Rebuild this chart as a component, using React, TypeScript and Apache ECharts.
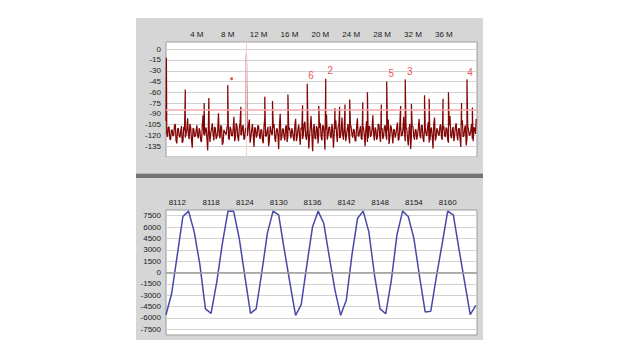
import React, { useEffect, useRef } from "react";
import * as echarts from "echarts";

// ---------- Spectrum (top panel) ----------
const NOISE_STEP_M = 0.2;
// noise floor samples (dBFS) on the even grid 0, 0.2, 0.4 ... MHz
const noiseFloorA: number[] = [
  -100, -122, -108, -126, -112, -119, -104, -131, -110, -123, -107, -128, -113, -118, -96, -125, -109, -137, -111, -121,
  -106, -124, -114, -129, -92, -120, -109, -141, -112, -117, -103, -127, -110, -122, -89, -124, -108, -130, -115, -119,
  -105, -126, -111, -121, -94, -123, -107, -128, -102, -119, -106, -124, -109, -117, -98, -122, -104, -136, -110, -120,
  -107, -125, -112, -131, -95, -121, -108, -126, -113, -118, -104, -129, -110, -139, -90, -123, -111, -127, -106, -120,
  -109, -124, -114, -128, -97, -122, -105, -133, -111, -119, -101, -126, -108, -121, -93, -142, -104, -125, -110, -118,
  -103, -127, -107, -140, -91, -120, -108, -124, -112, -117, -99, -129, -106, -122, -95, -126, -110, -119, -104, -131,
  -109, -123, -113, -128, -96, -121, -107, -126, -111, -135, -100, -124, -108, -119, -92, -127, -112, -122, -105, -129,
  -110, -121, -106, -126, -98, -123, -109, -131, -113, -118, -102, -125, -107, -120, -94, -128, -111, -134, -104, -122,
  -108, -126, -112, -119, -97, -124, -106, -129, -110, -121, -101, -127, -109, -138, -95, -123, -113, -120, -105, -126,
  -107, -122, -111, -130, -93, -124, -108, -120, -103, -127, -110, -136, -99, -121, -106, -125, -112, -119, -104, -128,
  -110, -97,
];
// noise floor samples on the odd grid 0.1, 0.3, 0.5 ... MHz
const noiseFloorB: number[] = [
  -118, -109, -125, -113, -121, -106, -127, -111, -120, -115, -130, -108, -123, -112, -119, -104, -126, -110, -122, -114,
  -121, -110, -127, -107, -119, -113, -124, -105, -129, -111, -118, -108, -125, -114, -120, -106, -133, -112, -117, -109,
  -124, -108, -120, -112, -128, -103, -122, -110, -119, -107, -126, -111, -121, -105, -130, -113, -118, -109, -123, -106,
  -120, -112, -126, -108, -121, -114, -135, -107, -119, -110, -124, -113, -118, -106, -127, -111, -122, -108, -129, -112,
  -117, -110, -123, -106, -128, -112, -120, -109, -125, -104, -121, -113, -138, -108, -119, -111, -124, -107, -131, -110,
  -122, -106, -119, -112, -126, -109, -121, -104, -137, -111, -118, -108, -124, -113, -120, -107, -128, -110, -123, -105,
  -119, -111, -127, -108, -121, -113, -124, -106, -120, -110, -129, -107, -122, -112, -118, -109, -126, -104, -121, -111,
  -125, -108, -120, -113, -132, -106, -119, -111, -123, -109, -127, -105, -121, -112, -118, -108, -124, -110, -139, -107,
  -121, -112, -126, -109, -120, -106, -124, -111, -118, -108, -130, -113, -122, -105, -127, -110, -119, -107, -123, -112,
  -120, -109, -126, -106, -121, -112, -128, -108, -119, -111, -124, -105, -122, -110, -134, -107, -120, -113, -125, -109,
  -118,
];
// spurs / tones: [frequency in MHz, level in dBFS]
const spurs: [number, number][] = [
  [0.05, -12], [2.5, -56], [4.95, -75], [5.55, -68], [8.0, -50], [9.7, -80], [10.42, -7],
  [12.8, -66], [13.8, -72], [15.8, -63], [17.7, -78], [18.3, -48], [19.8, -79], [20.7, -41],
  [21.9, -82], [22.5, -80], [23.2, -77], [23.8, -70], [25.5, -74], [26.1, -60], [27.9, -77],
  [28.6, -45], [30.4, -79], [31.0, -42], [31.8, -76], [33.5, -64], [34.1, -69], [35.9, -69],
  [36.6, -60], [38.3, -75], [39.0, -42], [39.7, -81],
];
const harmonicLabels: [number, number, string][] = [
  [18.8, -37, "6"], [21.3, -30, "2"], [29.2, -34, "5"], [31.6, -31, "3"], [39.4, -33, "4"],
];
const markerStar: [number, number] = [8.5, -41];
const limitLineDb = -84;
const carrierM = 10.4;

// ---------- Time waveform (bottom panel) ----------
const sampleStart = 8110;
const waveform: number[] = [
  -5570, -2780, 2300, 7400, 8100, 5400, 1100, -4800, -5400, -1300,
  3800, 8100, 8100, 4500, -500, -5400, -4800, 0, 5200, 8100,
  7600, 3000, -1400, -5650, -4250, 1000, 6000, 8100, 6500, 2000,
  -2350, -5650, -3650, 2300, 7150, 8100, 5400, -300, -4800, -5450,
  -1000, 5000, 8100, 7400, 4500, -500, -5200, -5100, -500, 3700,
  8100, 7600, 3100, -1230, -5570, -4340,
];

const FONT = "'Liberation Sans', Arial, sans-serif";

export default function App() {
  const ref = useRef<HTMLDivElement>(null);

  useEffect(() => {
    if (!ref.current) return;
    const chart = echarts.init(ref.current, undefined, { renderer: "svg" });

    const spectrum: [number, number][] = [
      ...noiseFloorA.map((v, i) => [i * NOISE_STEP_M, v] as [number, number]),
      ...noiseFloorB.map((v, i) => [0.1 + i * NOISE_STEP_M, v] as [number, number]),
      ...spurs,
    ].sort((a, b) => a[0] - b[0]);

    const wave = waveform.map((v, i) => [sampleStart + i, v]);

    const axisText = { color: "#1a1a1a", fontSize: 8, fontFamily: FONT };

    chart.setOption({
      animation: false,
      backgroundColor: "transparent",
      grid: [
        { left: 166, top: 42, width: 311, height: 115, show: true, backgroundColor: "#ffffff", borderColor: "#9a9a9a", borderWidth: 1 },
        { left: 166, top: 210, width: 311, height: 125, show: true, backgroundColor: "#ffffff", borderColor: "#9a9a9a", borderWidth: 1 },
      ],
      xAxis: [
        {
          type: "value", gridIndex: 0, position: "top", min: 0, max: 40.3, interval: 4,
          axisLine: { show: false }, axisTick: { show: false }, splitLine: { show: false },
          axisLabel: { ...axisText, margin: 4, formatter: (v: number) => (v >= 4 && v <= 36 ? `${v} M` : "") },
        },
        {
          type: "value", gridIndex: 1, position: "top", min: sampleStart, max: 8165.2, interval: 2,
          axisLine: { show: false }, axisTick: { show: false }, splitLine: { show: false },
          axisLabel: { ...axisText, margin: 4, formatter: (v: number) => ((v - 8112) % 6 === 0 && v >= 8112 && v <= 8160 ? String(v) : "") },
        },
      ],
      yAxis: [
        {
          type: "value", gridIndex: 0, min: -150, max: 10, interval: 15,
          axisLine: { show: false }, axisTick: { show: false },
          splitLine: { show: true, lineStyle: { color: "#d2d2d2", width: 1 } },
          axisLabel: { ...axisText, margin: 5, formatter: (v: number) => (v % 15 === 0 && v > -150 && v <= 0 ? String(v) : "") },
        },
        {
          type: "value", gridIndex: 1, min: -8250, max: 8250, interval: 750,
          axisLine: { show: false }, axisTick: { show: false },
          splitLine: { show: true, lineStyle: { color: ["rgba(0,0,0,0)", "#d2d2d2"], width: 1 } },
          axisLabel: { ...axisText, margin: 5, formatter: (v: number) => (v % 1500 === 0 && Math.abs(v) <= 7500 ? String(v) : "") },
        },
      ],
      series: [
        {
          // marker lines drawn beneath the spectrum trace
          type: "line", xAxisIndex: 0, yAxisIndex: 0, data: [], z: 1, silent: true,
          markLine: {
            silent: true, symbol: "none", label: { show: false },
            data: [
              { yAxis: limitLineDb, lineStyle: { color: "#f2a6ae", width: 1.5, type: "solid" } },
              { xAxis: carrierM, lineStyle: { color: "#f6cdd1", width: 1, type: "solid" } },
            ],
          },
        },
        {
          type: "line", xAxisIndex: 0, yAxisIndex: 0, data: spectrum, showSymbol: false, symbol: "none", z: 3,
          lineStyle: { color: "#820606", width: 1.25 }, silent: true,
        },
        {
          type: "scatter", xAxisIndex: 0, yAxisIndex: 0, symbolSize: 0, silent: true, z: 4,
          data: harmonicLabels.map(([f, d, n]) => ({ value: [f, d], name: n })),
          label: { show: true, position: "inside", formatter: (p: any) => p.name, color: "#e8262a", fontSize: 10, fontFamily: FONT },
        },
        {
          type: "scatter", xAxisIndex: 0, yAxisIndex: 0, symbol: "circle", symbolSize: 3, silent: true, z: 4,
          itemStyle: { color: "#e8262a" }, data: [markerStar],
        },
        {
          type: "line", xAxisIndex: 1, yAxisIndex: 1, data: wave, showSymbol: false, symbol: "none", z: 3,
          lineStyle: { color: "#4848a8", width: 1.5 }, silent: true,
          markLine: {
            silent: true, symbol: "none", label: { show: false },
            data: [{ yAxis: 0, lineStyle: { color: "#9a9a9a", width: 1.5, type: "solid" } }],
          },
        },
      ],
    });

    return () => chart.dispose();
  }, []);

  return (
    <div style={{ position: "absolute", left: 0, top: 0, width: 630, height: 361, background: "#ffffff", overflow: "hidden" }}>
      <div style={{ position: "absolute", left: 136, top: 18, width: 347, height: 155, background: "#d6d6d6" }} />
      <div style={{ position: "absolute", left: 136, top: 173, width: 347, height: 1, background: "#b4b4b4" }} />
      <div style={{ position: "absolute", left: 136, top: 174, width: 347, height: 4, background: "#737373" }} />
      <div style={{ position: "absolute", left: 136, top: 178, width: 347, height: 162, background: "#d6d6d6" }} />
      <div ref={ref} style={{ position: "absolute", left: 0, top: 0, width: 630, height: 361 }} />
    </div>
  );
}
